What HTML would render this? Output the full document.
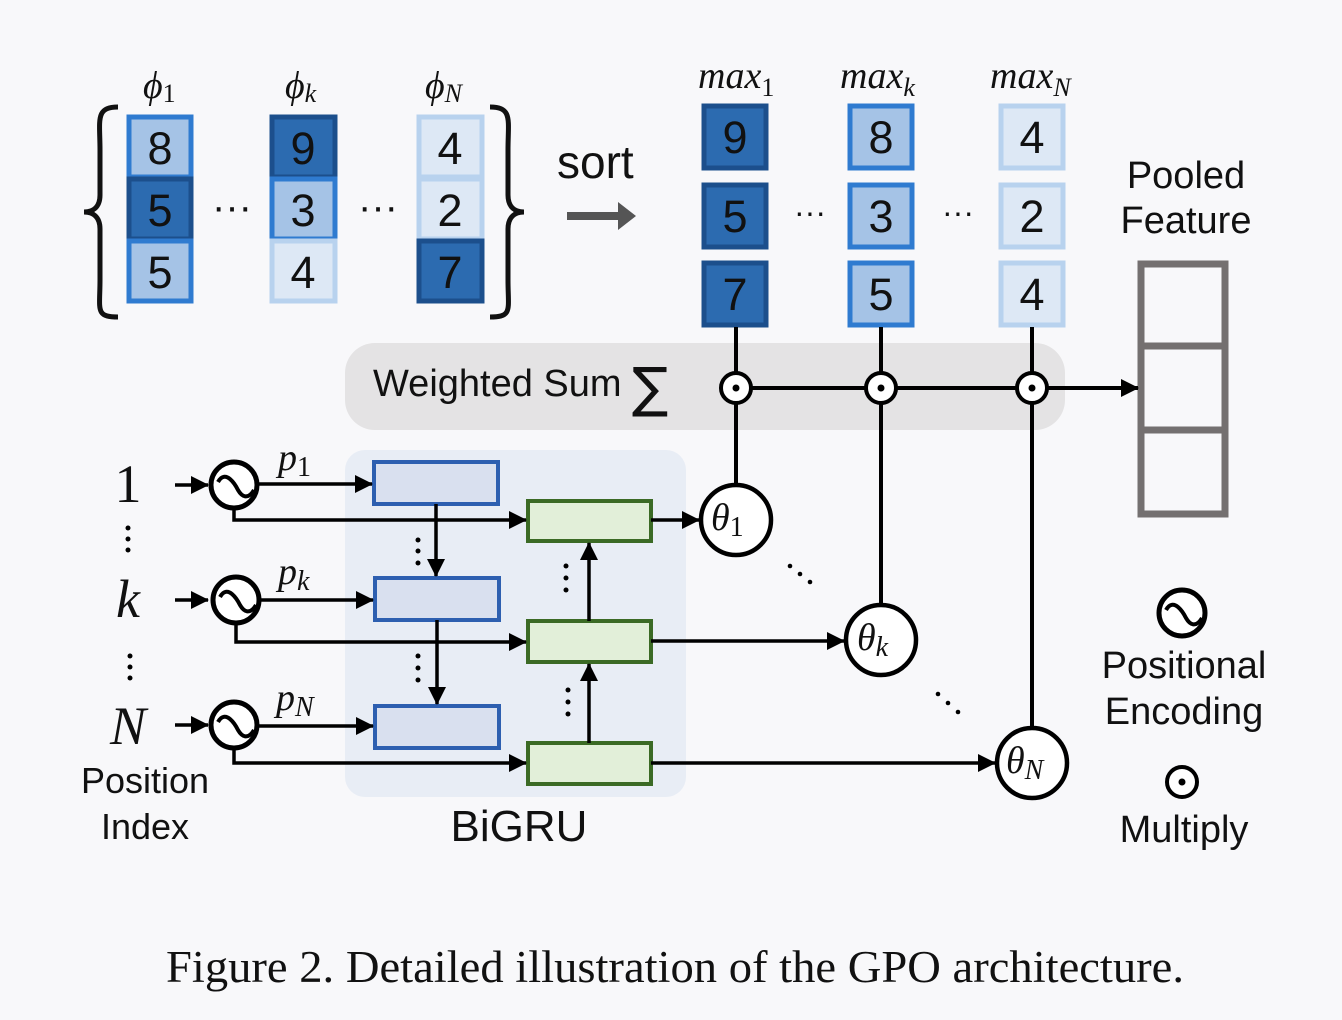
<!DOCTYPE html>
<html><head><style>
html,body{margin:0;padding:0;background:#f8f8fa;}
svg{display:block}
text{font-family:"Liberation Sans",sans-serif;fill:#111}
text.it{font-family:"Liberation Serif",serif;font-style:italic}
text.serif{font-family:"Liberation Serif",serif}
text.dv{font-family:"DejaVu Sans",sans-serif}
tspan.up{font-style:normal}
</style></head><body>
<svg width="1342" height="1020" viewBox="0 0 1342 1020" xmlns="http://www.w3.org/2000/svg">
<defs>
<marker id="ar2" markerWidth="18" markerHeight="18" refX="17" refY="9" orient="auto" markerUnits="userSpaceOnUse" viewBox="0 0 18 18">
<path d="M0,0 L18,9 L0,18 z" fill="#000"/></marker>
</defs>
<rect width="1342" height="1020" fill="#f8f8fa"/>

<path d="M118,107 C95,107 100,120 100,150 L100,195 C100,208 92,212 84,212 C92,212 100,216 100,229 L100,280 C100,310 95,317 118,317" fill="none" stroke="#111" stroke-width="5"/>
<path d="M490,107 C513,107 508,120 508,150 L508,195 C508,208 516,212 524,212 C516,212 508,216 508,229 L508,280 C508,310 513,317 490,317" fill="none" stroke="#111" stroke-width="5"/>

<g font-size="45" text-anchor="middle">
<rect x="129" y="117" width="62" height="60" fill="#a5c3e6" stroke="#2f7bd0" stroke-width="5"/>
<rect x="129" y="179" width="62" height="60" fill="#2c6bb0" stroke="#1c4f8c" stroke-width="5"/>
<rect x="129" y="241" width="62" height="60" fill="#a5c3e6" stroke="#2f7bd0" stroke-width="5"/>
<text x="160" y="164">8</text><text x="160" y="226">5</text><text x="160" y="288">5</text>
<rect x="272" y="117" width="63" height="60" fill="#2c6bb0" stroke="#1c4f8c" stroke-width="5"/>
<rect x="272" y="179" width="63" height="60" fill="#a5c3e6" stroke="#2f7bd0" stroke-width="5"/>
<rect x="272" y="241" width="63" height="60" fill="#dde8f5" stroke="#b8d2ee" stroke-width="5"/>
<text x="303" y="164">9</text><text x="303" y="226">3</text><text x="303" y="288">4</text>
<rect x="419" y="117" width="63" height="60" fill="#dde8f5" stroke="#b8d2ee" stroke-width="5"/>
<rect x="419" y="179" width="63" height="60" fill="#dde8f5" stroke="#b8d2ee" stroke-width="5"/>
<rect x="419" y="241" width="63" height="60" fill="#2c6bb0" stroke="#1c4f8c" stroke-width="5"/>
<text x="450" y="164">4</text><text x="450" y="226">2</text><text x="450" y="288">7</text>

<rect x="704" y="106" width="62" height="62" fill="#2c6bb0" stroke="#1c4f8c" stroke-width="5"/>
<rect x="704" y="185" width="62" height="62" fill="#2c6bb0" stroke="#1c4f8c" stroke-width="5"/>
<rect x="704" y="263" width="62" height="62" fill="#2c6bb0" stroke="#1c4f8c" stroke-width="5"/>
<text x="735" y="153">9</text><text x="735" y="232">5</text><text x="735" y="310">7</text>
<rect x="850" y="106" width="62" height="62" fill="#a5c3e6" stroke="#2f7bd0" stroke-width="5"/>
<rect x="850" y="185" width="62" height="62" fill="#a5c3e6" stroke="#2f7bd0" stroke-width="5"/>
<rect x="850" y="263" width="62" height="62" fill="#a5c3e6" stroke="#2f7bd0" stroke-width="5"/>
<text x="881" y="153">8</text><text x="881" y="232">3</text><text x="881" y="310">5</text>
<rect x="1001" y="106" width="62" height="62" fill="#dde8f5" stroke="#b8d2ee" stroke-width="5"/>
<rect x="1001" y="185" width="62" height="62" fill="#dde8f5" stroke="#b8d2ee" stroke-width="5"/>
<rect x="1001" y="263" width="62" height="62" fill="#dde8f5" stroke="#b8d2ee" stroke-width="5"/>
<text x="1032" y="153">4</text><text x="1032" y="232">2</text><text x="1032" y="310">4</text>
</g>

<g font-size="40" text-anchor="middle">
<text x="232" y="220">···</text><text x="378" y="220">···</text>
<text x="810" y="223" font-size="32">···</text><text x="958" y="223" font-size="32">···</text>
</g>

<text class="it" x="143" y="98" font-size="38">ϕ<tspan class="up" font-size="26" dy="4">1</tspan></text>
<text class="it" x="285" y="98" font-size="38">ϕ<tspan font-size="26" dy="4">k</tspan></text>
<text class="it" x="425" y="98" font-size="38">ϕ<tspan font-size="26" dy="4">N</tspan></text>
<text class="it" x="698" y="88" font-size="38">max<tspan class="up" font-size="26" dy="8">1</tspan></text>
<text class="it" x="840" y="88" font-size="38">max<tspan font-size="26" dy="8">k</tspan></text>
<text class="it" x="990" y="88" font-size="38">max<tspan font-size="26" dy="8">N</tspan></text>

<text x="557" y="178" font-size="46">sort</text>
<line x1="567" y1="216" x2="622" y2="216" stroke="#555" stroke-width="8"/>
<path d="M618,202 L636,216 L618,230 z" fill="#555"/>

<text x="1186" y="188" font-size="38" text-anchor="middle">Pooled</text>
<text x="1186" y="233" font-size="38" text-anchor="middle">Feature</text>

<rect x="345" y="343" width="720" height="87" rx="30" fill="#e4e3e4"/>
<text x="373" y="396" font-size="38">Weighted Sum</text>
<text class="dv" x="632" y="406" font-size="54">∑</text>

<rect x="1141" y="264" width="84" height="250" fill="none" stroke="#747070" stroke-width="7"/>
<line x1="1141" y1="346" x2="1225" y2="346" stroke="#747070" stroke-width="7"/>
<line x1="1141" y1="430" x2="1225" y2="430" stroke="#747070" stroke-width="7"/>

<rect x="345" y="450" width="341" height="347" rx="20" fill="#e8edf5"/>

<g stroke="#000" stroke-width="4" fill="none">
<line x1="736" y1="327" x2="736" y2="485"/>
<line x1="881" y1="327" x2="881" y2="605"/>
<line x1="1032" y1="327" x2="1032" y2="728"/>
<line x1="736" y1="388" x2="1138" y2="388" marker-end="url(#ar2)"/>
</g>
<g stroke="#000" stroke-width="4" fill="#fff">
<circle cx="736" cy="388" r="15"/><circle cx="881" cy="388" r="15"/><circle cx="1032" cy="388" r="15"/>
</g>
<g fill="#000"><circle cx="736" cy="388" r="3.5"/><circle cx="881" cy="388" r="3.5"/><circle cx="1032" cy="388" r="3.5"/></g>

<g stroke-width="4">
<rect x="374" y="462" width="124" height="42" fill="#d9e0ef" stroke="#2d5fb0"/>
<rect x="375" y="578" width="124" height="42" fill="#d9e0ef" stroke="#2d5fb0"/>
<rect x="375" y="706" width="124" height="42" fill="#d9e0ef" stroke="#2d5fb0"/>
<rect x="528" y="501" width="123" height="40" fill="#e2efd9" stroke="#3b6a25"/>
<rect x="528" y="621" width="123" height="41" fill="#e2efd9" stroke="#3b6a25"/>
<rect x="528" y="743" width="123" height="41" fill="#e2efd9" stroke="#3b6a25"/>
</g>

<g stroke="#000" stroke-width="3.5" fill="none">
<line x1="175" y1="485" x2="208" y2="485" marker-end="url(#ar2)"/>
<line x1="175" y1="600" x2="208" y2="600" marker-end="url(#ar2)"/>
<line x1="175" y1="725" x2="208" y2="725" marker-end="url(#ar2)"/>
<line x1="258" y1="484" x2="372" y2="484" marker-end="url(#ar2)"/>
<line x1="258" y1="600" x2="373" y2="600" marker-end="url(#ar2)"/>
<line x1="258" y1="726" x2="373" y2="726" marker-end="url(#ar2)"/>
<polyline points="234,509 234,520 526,520" marker-end="url(#ar2)"/>
<polyline points="236,624 236,642 526,642" marker-end="url(#ar2)"/>
<polyline points="234,749 234,763 526,763" marker-end="url(#ar2)"/>
<line x1="436" y1="504" x2="436" y2="576" marker-end="url(#ar2)"/>
<line x1="437" y1="620" x2="437" y2="704" marker-end="url(#ar2)"/>
<line x1="589" y1="621" x2="589" y2="543" marker-end="url(#ar2)"/>
<line x1="589" y1="743" x2="589" y2="664" marker-end="url(#ar2)"/>
<line x1="651" y1="520" x2="699" y2="520" marker-end="url(#ar2)"/>
<line x1="651" y1="641" x2="844" y2="641" marker-end="url(#ar2)"/>
<line x1="651" y1="763" x2="995" y2="763" marker-end="url(#ar2)"/>
</g>

<g fill="#000">
<circle cx="418" cy="540" r="2.5"/><circle cx="418" cy="551" r="2.5"/><circle cx="418" cy="563" r="2.5"/>
<circle cx="418" cy="656" r="2.5"/><circle cx="418" cy="668" r="2.5"/><circle cx="418" cy="680" r="2.5"/>
<circle cx="566" cy="566" r="2.5"/><circle cx="566" cy="578" r="2.5"/><circle cx="566" cy="590" r="2.5"/>
<circle cx="568" cy="690" r="2.5"/><circle cx="568" cy="702" r="2.5"/><circle cx="568" cy="714" r="2.5"/>
<circle cx="128" cy="528" r="2.5"/><circle cx="128" cy="539" r="2.5"/><circle cx="128" cy="550" r="2.5"/>
<circle cx="130" cy="656" r="2.5"/><circle cx="130" cy="667" r="2.5"/><circle cx="130" cy="678" r="2.5"/>
<circle cx="790" cy="566" r="2.3"/><circle cx="800" cy="574" r="2.3"/><circle cx="810" cy="582" r="2.3"/>
<circle cx="938" cy="694" r="2.3"/><circle cx="948" cy="703" r="2.3"/><circle cx="958" cy="712" r="2.3"/>
</g>

<g stroke="#000" stroke-width="5" fill="#fff">
<circle cx="234" cy="485" r="23"/><circle cx="236" cy="600" r="23"/><circle cx="234" cy="725" r="23"/>
<circle cx="1182" cy="613" r="23"/>
</g>
<g stroke="#000" stroke-width="4" fill="none">
<path d="M218,482 C226,468 236,486 238,490 C242,497 248,500 254,490"/>
<path d="M220,597 C228,583 238,601 240,605 C244,612 250,615 256,605"/>
<path d="M218,722 C226,708 236,726 238,730 C242,737 248,740 254,730"/>
<path d="M1166,610 C1174,596 1184,614 1186,618 C1190,625 1196,628 1202,618"/>
</g>

<g stroke="#000" stroke-width="4.5" fill="#fff">
<circle cx="736" cy="520" r="35"/><circle cx="881" cy="640" r="35"/><circle cx="1032" cy="763" r="35"/>
</g>
<text class="it" x="711" y="530" font-size="38">θ<tspan class="up" font-size="28" dy="6">1</tspan></text>
<text class="it" x="857" y="650" font-size="38">θ<tspan font-size="28" dy="6">k</tspan></text>
<text class="it" x="1006" y="773" font-size="38">θ<tspan font-size="28" dy="6">N</tspan></text>

<text class="it" x="278" y="470" font-size="38">p<tspan class="up" font-size="28" dy="6">1</tspan></text>
<text class="it" x="278" y="584" font-size="38">p<tspan font-size="28" dy="6">k</tspan></text>
<text class="it" x="276" y="710" font-size="38">p<tspan font-size="28" dy="6">N</tspan></text>

<text class="serif" x="128" y="502" font-size="54" text-anchor="middle">1</text>
<text class="it" x="128" y="617" font-size="54" text-anchor="middle">k</text>
<text class="it" x="128" y="744" font-size="54" text-anchor="middle">N</text>

<text x="145" y="793" font-size="36" text-anchor="middle">Position</text>
<text x="145" y="839" font-size="36" text-anchor="middle">Index</text>
<text x="519" y="841" font-size="44" text-anchor="middle">BiGRU</text>

<text x="1184" y="678" font-size="38" text-anchor="middle">Positional</text>
<text x="1184" y="724" font-size="38" text-anchor="middle">Encoding</text>
<circle cx="1182" cy="782" r="15" stroke="#000" stroke-width="4" fill="#fff"/>
<circle cx="1182" cy="782" r="3.5" fill="#000"/>
<text x="1184" y="842" font-size="38" text-anchor="middle">Multiply</text>

<text class="serif" x="166" y="982" font-size="45" textLength="1018" lengthAdjust="spacingAndGlyphs">Figure 2. Detailed illustration of the GPO architecture.</text>
</svg>
</body></html>
